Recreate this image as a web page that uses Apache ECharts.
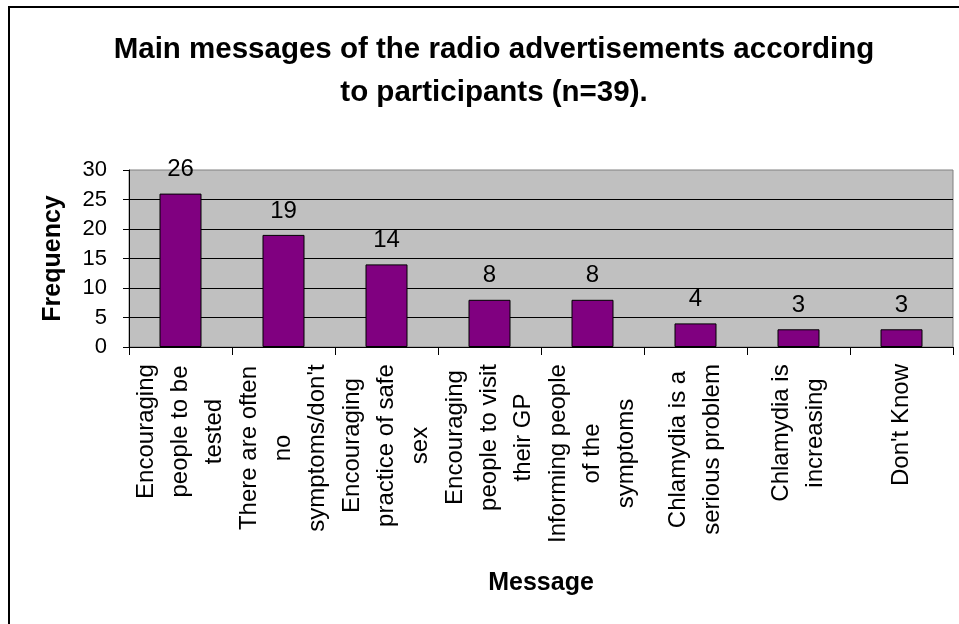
<!DOCTYPE html>
<html>
<head>
<meta charset="utf-8">
<style>
  html, body { margin: 0; padding: 0; background: #fff; }
  #chart { width: 959px; height: 624px; }
</style>
<script src="https://cdn.jsdelivr.net/npm/echarts@6/dist/echarts.min.js"></script>
</head>
<body>
<div id="chart"></div>
<script>
// Survey answers: what the radio spots were about
const categories = [
  'Encouraging\npeople to be\ntested',
  'There are often\nno\nsymptoms/don\'t',
  'Encouraging\npractice of safe\nsex',
  'Encouraging\npeople to visit\ntheir GP',
  'Informing people\nof the\nsymptoms',
  'Chlamydia is a\nserious problem',
  'Chlamydia is\nincreasing',
  'Don\'t Know'
];
const frequency = [26, 19, 14, 8, 8, 4, 3, 3];
const yTicks = { min: 0, max: 30, step: 5 };

const FONT = '"Liberation Sans", Arial, Helvetica, sans-serif';
const LABEL_SIZE = 24;

// Measure the longest line of every category label so that the lines of each
// label can be centred on one another while the block stays hung off the axis.
const ctx = document.createElement('canvas').getContext('2d');
ctx.font = LABEL_SIZE + 'px ' + FONT;
const rich = {};
categories.forEach((c, i) => {
  const w = Math.max(...c.split('\n').map(s => ctx.measureText(s).width));
  rich['c' + i] = {
    width: Math.ceil(w) + 2,
    align: 'center',
    fontSize: LABEL_SIZE,
    lineHeight: 34,
    fontFamily: FONT,
    color: '#000'
  };
});

const chart = echarts.init(document.getElementById('chart'), null, { renderer: 'canvas' });

chart.setOption({
  backgroundColor: '#ffffff',
  animation: false,
  textStyle: { fontFamily: FONT, color: '#000' },
  title: {
    text: 'Main messages of the radio advertisements according\nto participants (n=39).',
    left: 489,
    top: 23,
    textAlign: 'center',
    textStyle: {
      fontFamily: FONT,
      fontSize: 29.5,
      fontWeight: 'bold',
      lineHeight: 43,
      color: '#000'
    }
  },
  graphic: [{
    type: 'rect',
    silent: true,
    shape: { x: 9, y: 7, width: 1200, height: 1000 },
    style: { fill: 'none', stroke: '#000', lineWidth: 2 },
    z: 100
  }],
  grid: {
    left: 129,
    right: 6,
    top: 170,
    bottom: 277,
    show: true,
    backgroundColor: '#c0c0c0',
    borderColor: '#808080',
    borderWidth: 1
  },
  xAxis: {
    type: 'category',
    data: categories,
    boundaryGap: true,
    name: 'Message',
    nameLocation: 'middle',
    nameGap: 224,
    nameTextStyle: { fontFamily: FONT, fontSize: 25, fontWeight: 'bold', color: '#000' },
    axisLine: { lineStyle: { color: '#000', width: 1 } },
    axisTick: { show: true, length: 8, interval: 0, lineStyle: { color: '#000' } },
    axisLabel: {
      interval: 0,
      rotate: 90,
      margin: 16,
      formatter: (v, i) => '{c' + i + '|' + v + '}',
      rich: rich
    },
    splitLine: { show: false }
  },
  yAxis: {
    type: 'value',
    min: yTicks.min,
    max: yTicks.max,
    interval: yTicks.step,
    name: 'Frequency',
    nameLocation: 'middle',
    nameGap: 63,
    nameTextStyle: { fontFamily: FONT, fontSize: 25, fontWeight: 'bold', color: '#000' },
    axisLine: { show: true, lineStyle: { color: '#000', width: 1 } },
    axisTick: { show: true, length: 6, lineStyle: { color: '#000' } },
    axisLabel: { fontFamily: FONT, fontSize: 22, color: '#000', margin: 22 },
    splitLine: { show: true, showMaxLine: false, lineStyle: { color: '#000', width: 1 } }
  },
  series: [{
    type: 'bar',
    data: frequency,
    barWidth: 42,
    itemStyle: { color: '#800080', borderColor: '#000', borderWidth: 1 },
    label: {
      show: true,
      position: 'top',
      distance: 12,
      fontFamily: FONT,
      fontSize: 24,
      color: '#000'
    }
  }]
});
</script>
</body>
</html>
